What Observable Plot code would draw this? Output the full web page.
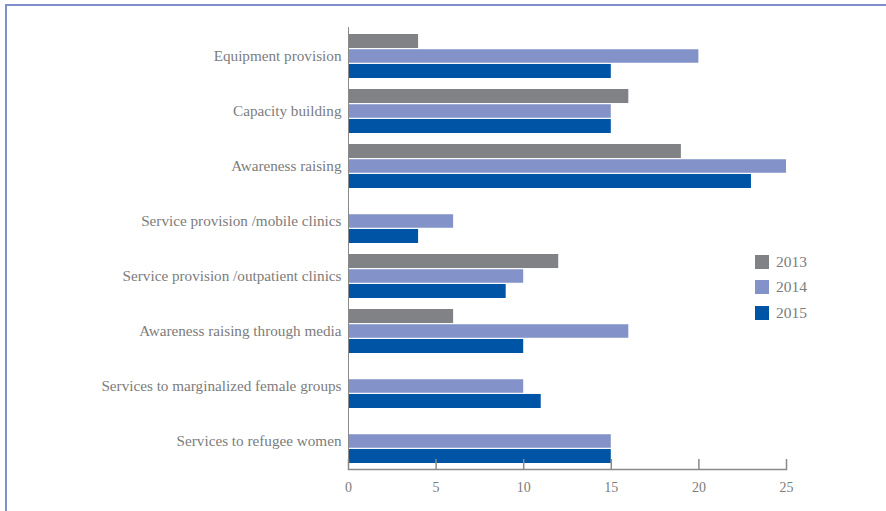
<!DOCTYPE html>
<html><head><meta charset="utf-8">
<script src="https://cdn.jsdelivr.net/npm/d3@7"></script>
<script src="https://cdn.jsdelivr.net/npm/@observablehq/plot@0.6"></script>
<style>
html,body{margin:0;padding:0;background:#fff;}
#wrap{position:relative;width:886px;height:511px;overflow:hidden;}
#border{position:absolute;left:5px;top:4px;right:0;bottom:0;border-top:2px solid #7f8fc9;border-left:2px solid #7f8fc9;pointer-events:none}
#legend{position:absolute;left:755px;top:249px;color:#7c7c7c}
.row{display:flex;align-items:center;height:25.5px}
.sw{width:14px;height:14px;margin-right:7px}
</style></head><body><div id="wrap"><div id="chart"></div><div id="border"></div><div id="legend"></div></div>
<script>
const categories = [
  "Equipment provision",
  "Capacity building",
  "Awareness raising",
  "Service provision /mobile clinics",
  "Service provision /outpatient clinics",
  "Awareness raising through media",
  "Services to marginalized female groups",
  "Services to refugee women"
];
const years = ["2013", "2014", "2015"];
const v2013 = [4, 16, 19, 0, 12, 6, 0, 0];
const v2014 = [20, 15, 25, 6, 10, 16, 10, 15];
const v2015 = [15, 15, 23, 4, 9, 10, 11, 15];
const xTicks = [0, 5, 10, 15, 20, 25];
const colors = ["#808285", "#8393c9", "#0054a6"];

// pick an installed serif family and size it to the reference text width
const ctx = document.createElement("canvas").getContext("2d");
function w(font, s) { ctx.font = font; return ctx.measureText(s).width; }
const probe = "Equipment provision mmmWWiil 0123";
const candidates = ["Liberation Serif", "DejaVu Serif", "Noto Serif", "Times New Roman"];
let fam = "serif";
for (const c of candidates) {
  const a = w(`40px '${c}', monospace`, probe), b = w("40px monospace", probe);
  const a2 = w(`40px '${c}', sans-serif`, probe), b2 = w("40px sans-serif", probe);
  if (a !== b || a2 !== b2) { fam = c; break; }
}
const famCss = `'${fam}', serif`;
const catSize = Math.min(15.5, 14 * 128 / w(`14px ${famCss}`, "Equipment provision"));
const tickSize = Math.min(15, 14 * 14 / w(`14px ${famCss}`, "25"));
const legSize = Math.min(16, 15 * 31 / w(`15px ${famCss}`, "2013"));

const series = [v2013, v2014, v2015];
const data = [];
years.forEach((yr, k) => categories.forEach((c, i) => {
  if (series[k][i] > 0) data.push({category: c, year: yr, value: series[k][i]});
}));

const W = 886, H = 511, mt = 27, mb = 42, ml = 348, mr = 100;
const pIn = 0.2, pOut = 0.1;
const step = (H - mt - mb) / (categories.length - pIn + 2 * pOut);
const bw = step * (1 - pIn);
const sub = bw / 3;

const barMarks = years.map((yr, k) => Plot.barX(data.filter(d => d.year === yr), {
  x: "value", y: "category", fill: "year",
  insetTop: k * sub + (k > 0 ? 0.5 : 0),
  insetBottom: (2 - k) * sub + (k < 2 ? 0.5 : 0)
}));

const chart = Plot.plot({
  width: W, height: H,
  marginTop: mt, marginBottom: mb, marginLeft: ml, marginRight: mr,
  style: {fontFamily: famCss, color: "#7c7c7c", background: "transparent"},
  x: {domain: [0, 25], axis: null},
  y: {domain: categories, paddingInner: pIn, paddingOuter: pOut, axis: null},
  color: {domain: years, range: colors},
  marks: [
    ...barMarks,
    Plot.ruleX([0], {stroke: "#8a8a8a", strokeWidth: 1}),
    Plot.frame({anchor: "bottom", stroke: "#8a8a8a", strokeWidth: 1.5}),
    Plot.axisY({tickSize: 0, tickPadding: 7, fontSize: catSize, fontFamily: famCss, label: null}),
    Plot.axisX({ticks: xTicks, tickSize: -10, tickPadding: 23, fontSize: tickSize, fontFamily: famCss, label: null, stroke: "#8a8a8a", strokeWidth: 1.5})
  ]
});
document.getElementById("chart").appendChild(chart);

const legend = document.getElementById("legend");
legend.style.fontFamily = famCss;
legend.style.fontSize = legSize + "px";
years.forEach((yr, k) => {
  const row = document.createElement("div");
  row.className = "row";
  const sw = document.createElement("div");
  sw.className = "sw";
  sw.style.background = colors[k];
  const t = document.createElement("span");
  t.textContent = yr;
  row.appendChild(sw); row.appendChild(t);
  legend.appendChild(row);
});
</script>
</body></html>
